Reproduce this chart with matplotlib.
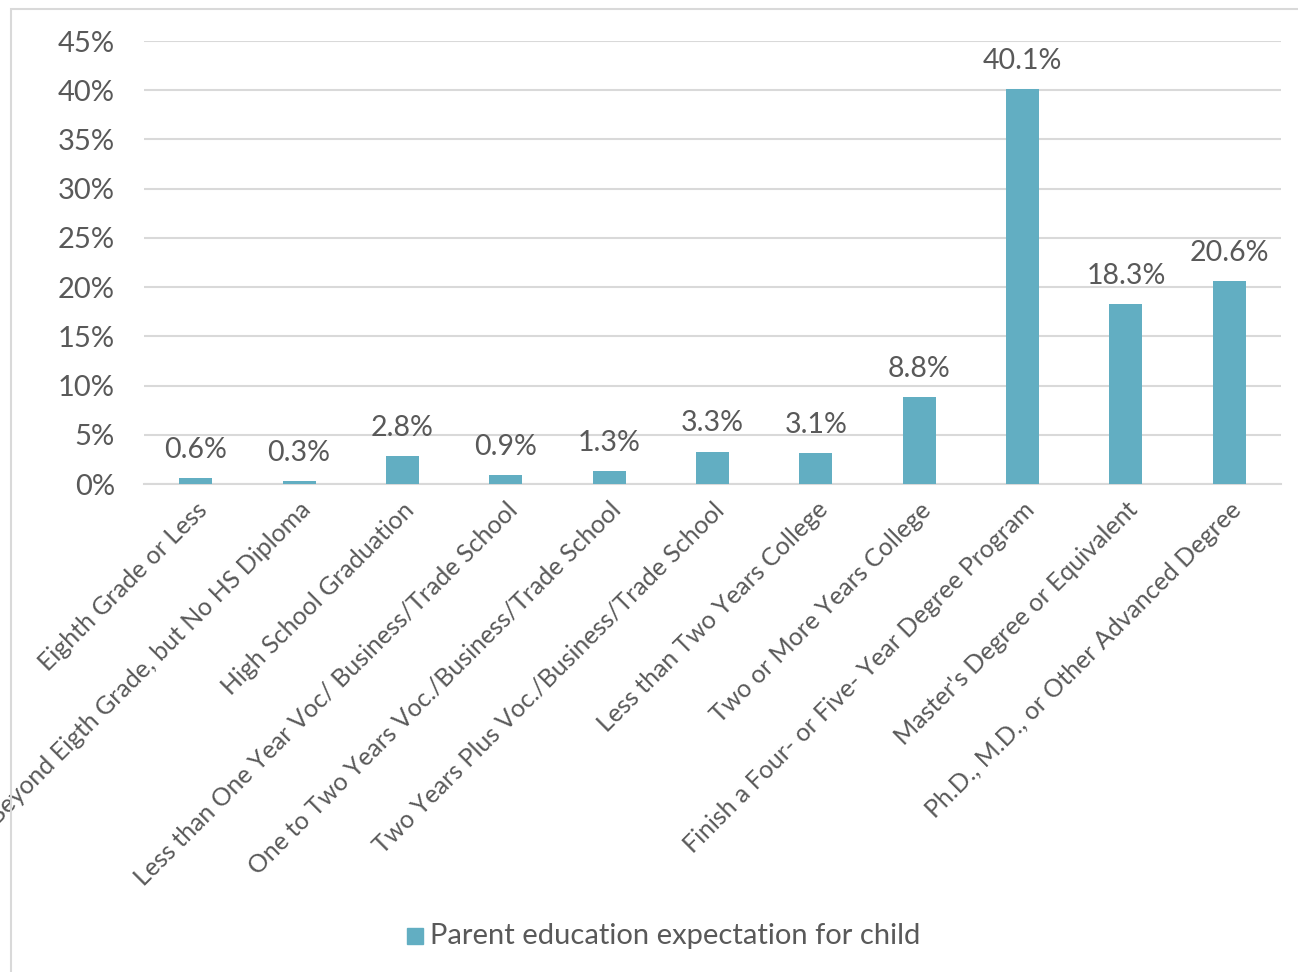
import matplotlib
matplotlib.use("Agg")
import matplotlib.pyplot as plt
from matplotlib.patches import Rectangle

categories = [
    "Eighth Grade or Less",
    "Beyond Eigth Grade, but No HS Diploma",
    "High School Graduation",
    "Less than One Year Voc/ Business/Trade School",
    "One to Two Years Voc./Business/Trade School",
    "Two Years Plus Voc./Business/Trade School",
    "Less than Two Years College",
    "Two or More Years College",
    "Finish a Four- or Five- Year Degree Program",
    "Master's Degree or Equivalent",
    "Ph.D., M.D., or Other Advanced Degree",
]
values = [0.6, 0.3, 2.8, 0.9, 1.3, 3.3, 3.1, 8.8, 40.1, 18.3, 20.6]
yticks = [0, 5, 10, 15, 20, 25, 30, 35, 40, 45]
series_name = "Parent education expectation for child"

plt.rcParams['font.family'] = ['Lato', 'DejaVu Sans']
txt = '#595959'
bar_c = '#62AEC2'
grid_c = '#D9D9D9'

W, H = 1298, 972
fig = plt.figure(figsize=(W / 100, H / 100), dpi=100)
ax = fig.add_axes([144 / W, 1 - 484 / H, (1281 - 144) / W, (484 - 41) / H])

x = list(range(len(categories)))
ax.bar(x, values, width=0.32, color=bar_c, zorder=3)
ax.set_xlim(-0.5, len(categories) - 0.5)
ax.set_ylim(0, 45)
ax.set_yticks(yticks)
ax.set_yticklabels([f"{t}%" for t in yticks], fontsize=21, color=txt)
ax.yaxis.grid(True, color=grid_c, linewidth=1.5, zorder=0)
ax.set_axisbelow(True)
for s in ['top', 'right', 'left']:
    ax.spines[s].set_visible(False)
ax.spines['bottom'].set_color(grid_c)
ax.spines['bottom'].set_linewidth(1.5)
ax.tick_params(axis='y', length=0, pad=21)
ax.tick_params(axis='x', length=0, pad=10)
ax.set_xticks(x)
ax.set_xticklabels(categories, rotation=45, ha='right', rotation_mode='anchor',
                   fontsize=18, color=txt)

for xi, v in zip(x, values):
    ax.annotate(f"{v:.1f}%", (xi, v), xytext=(0, 11), textcoords='offset points',
                ha='center', va='bottom', fontsize=20.5, color=txt)

# legend
fig.patches.append(Rectangle((407 / W, 1 - 944 / H), 16 / W, 16 / H,
                             transform=fig.transFigure, color=bar_c))
fig.text(430 / W, 1 - 936 / H, series_name, fontsize=21, color=txt,
         va='center', ha='left')

# chart border
fig.patches.append(Rectangle((11 / W, -0.01), 1.2, 1 - 9 / H + 0.01,
                             transform=fig.transFigure, fill=False,
                             edgecolor=grid_c, linewidth=1.5))

fig.savefig("out.png", dpi=100, facecolor='white')
